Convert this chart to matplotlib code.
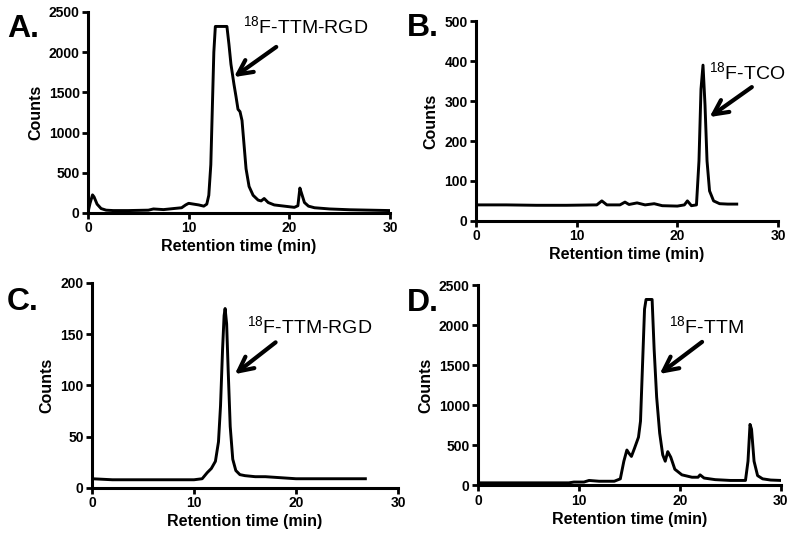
import matplotlib.pyplot as plt
import numpy as np

plt.rcParams['font.family'] = 'Liberation Sans'
plt.rcParams['mathtext.fontset'] = 'custom'
plt.rcParams['mathtext.rm'] = 'Liberation Sans'

# --- chromatogram traces (time in min, counts) ---
a_time = [0.0, 0.2, 0.45, 0.6, 0.9, 1.3, 1.8, 2.5, 4.0, 6.0, 6.5, 7.5, 8.5, 9.3,
          9.7, 10.0, 10.5, 11.0, 11.5, 11.8, 12.0, 12.2, 12.35, 12.5, 12.65, 12.8,
          13.8, 14.0, 14.2, 14.5, 14.7, 14.9, 15.1, 15.3, 15.5, 15.7, 16.0, 16.4,
          16.9, 17.2, 17.5, 17.9, 18.5, 19.5, 20.5, 20.85, 21.05, 21.2, 21.5, 21.9,
          22.5, 24.0, 26.0, 28.0, 30.0]
a_counts = [10, 120, 225, 200, 110, 55, 35, 30, 30, 35, 50, 42, 55, 65,
            100, 120, 110, 100, 85, 110, 220, 600, 1300, 2000, 2320, 2320,
            2320, 2100, 1850, 1600, 1450, 1290, 1260, 1150, 850, 550, 330, 220,
            160, 150, 180, 130, 100, 85, 70, 90, 310, 250, 130, 85,
            65, 50, 40, 35, 30]

b_time = [0.0, 3.0, 6.0, 9.0, 12.0, 12.5, 13.0, 14.3, 14.8, 15.2, 16.0, 16.8, 17.7,
          18.5, 20.0, 20.7, 21.0, 21.4, 21.9, 22.15, 22.35, 22.55, 22.75, 22.95,
          23.2, 23.6, 24.2, 25.0, 25.9]
b_counts = [40, 40, 39, 39, 40, 50, 40, 40, 47, 41, 45, 40, 43,
            38, 37, 40, 50, 38, 40, 150, 330, 390, 290, 150,
            75, 50, 43, 42, 42]

c_time = [0.0, 2.0, 4.0, 6.0, 8.0, 10.0, 10.8, 11.3, 11.7, 12.1, 12.4, 12.6, 12.8,
          12.95, 13.05, 13.2, 13.35, 13.55, 13.8, 14.1, 14.5, 15.0, 16.0, 17.0,
          18.5, 20.0, 22.0, 24.0, 26.8]
c_counts = [9, 8, 8, 8, 8, 8, 9, 15, 19, 26, 45, 80, 135,
            168, 175, 160, 115, 60, 28, 17, 13, 12, 11, 11,
            10, 9, 9, 9, 9]

d_time = [0.0, 3.0, 6.0, 9.0, 9.5, 10.5, 11.0, 12.0, 13.5, 14.1, 14.45, 14.75, 14.95,
          15.2, 15.5, 15.9, 16.1, 16.3, 16.5, 16.65, 17.25, 17.45, 17.7, 18.0,
          18.3, 18.55, 18.8, 19.1, 19.5, 20.2, 21.2, 21.8, 22.0, 22.4, 23.5,
          25.0, 26.5, 26.75, 26.95, 27.1, 27.35, 27.7, 28.2, 29.0, 30.0]
d_counts = [30, 30, 30, 30, 40, 40, 60, 50, 50, 80, 300, 440, 400,
            360, 460, 600, 800, 1500, 2200, 2320, 2320, 1700, 1100, 650,
            380, 300, 420, 350, 200, 130, 100, 100, 130, 90, 70,
            60, 60, 300, 760, 700, 300, 120, 80, 65, 60]

panels = [
    dict(t=a_time, c=a_counts, ylim=2500, yticks=[0, 500, 1000, 1500, 2000, 2500],
         label='A.', name='TTM-RGD', text_xy=(21.6, 2310), tip=(14.5, 1690), tail=(18.7, 2065),
         rect=[0.110, 0.6085, 0.3775, 0.3695], lab_xy=(0.009, 0.932)),
    dict(t=b_time, c=b_counts, ylim=500, yticks=[0, 100, 200, 300, 400, 500],
         label='B.', name='TCO', text_xy=(26.9, 372), tip=(23.2, 260), tail=(27.4, 335),
         rect=[0.595, 0.594, 0.3775, 0.367], lab_xy=(0.509, 0.934)),
    dict(t=c_time, c=c_counts, ylim=200, yticks=[0, 50, 100, 150, 200],
         label='C.', name='TTM-RGD', text_xy=(21.3, 157), tip=(14.0, 111), tail=(18.0, 142),
         rect=[0.115, 0.103, 0.3825, 0.377], lab_xy=(0.009, 0.430)),
    dict(t=d_time, c=d_counts, ylim=2500, yticks=[0, 500, 1000, 1500, 2000, 2500],
         label='D.', name='TTM', text_xy=(22.6, 1975), tip=(18.0, 1390), tail=(22.2, 1790),
         rect=[0.5975, 0.108, 0.3785, 0.368], lab_xy=(0.509, 0.428)),
]

fig = plt.figure(figsize=(8, 5.44), dpi=100)

for p in panels:
    ax = fig.add_axes(p['rect'])
    ax.plot(p['t'], p['c'], color='black', lw=2.1, solid_joinstyle='round')
    ax.set_xlim(0, 30)
    ax.set_ylim(0, p['ylim'])
    ax.set_xticks([0, 10, 20, 30])
    ax.set_yticks(p['yticks'])
    ax.spines['top'].set_visible(False)
    ax.spines['right'].set_visible(False)
    for s in ['left', 'bottom']:
        ax.spines[s].set_linewidth(2.2)
    ax.tick_params(width=2.0, length=4, labelsize=10, pad=2)
    for lab in ax.get_xticklabels() + ax.get_yticklabels():
        lab.set_fontweight('bold')
    ax.set_xlabel('Retention time (min)', fontsize=11.5, fontweight='bold', labelpad=3)
    ax.set_ylabel('Counts', fontsize=11.5, fontweight='bold')
    ax.text(p['text_xy'][0], p['text_xy'][1], r'$^{\mathregular{18}}$F-' + p['name'],
            ha='center', va='center', fontsize=14)
    ax.annotate('', xy=p['tip'], xytext=p['tail'],
                arrowprops=dict(arrowstyle='->', lw=3.0, mutation_scale=26, color='black',
                                shrinkA=0, shrinkB=0))
    fig.text(p['lab_xy'][0], p['lab_xy'][1], p['label'],
             fontsize=23, fontweight='bold', ha='left', va='baseline')

fig.savefig('out.png', dpi=100, facecolor='white')
